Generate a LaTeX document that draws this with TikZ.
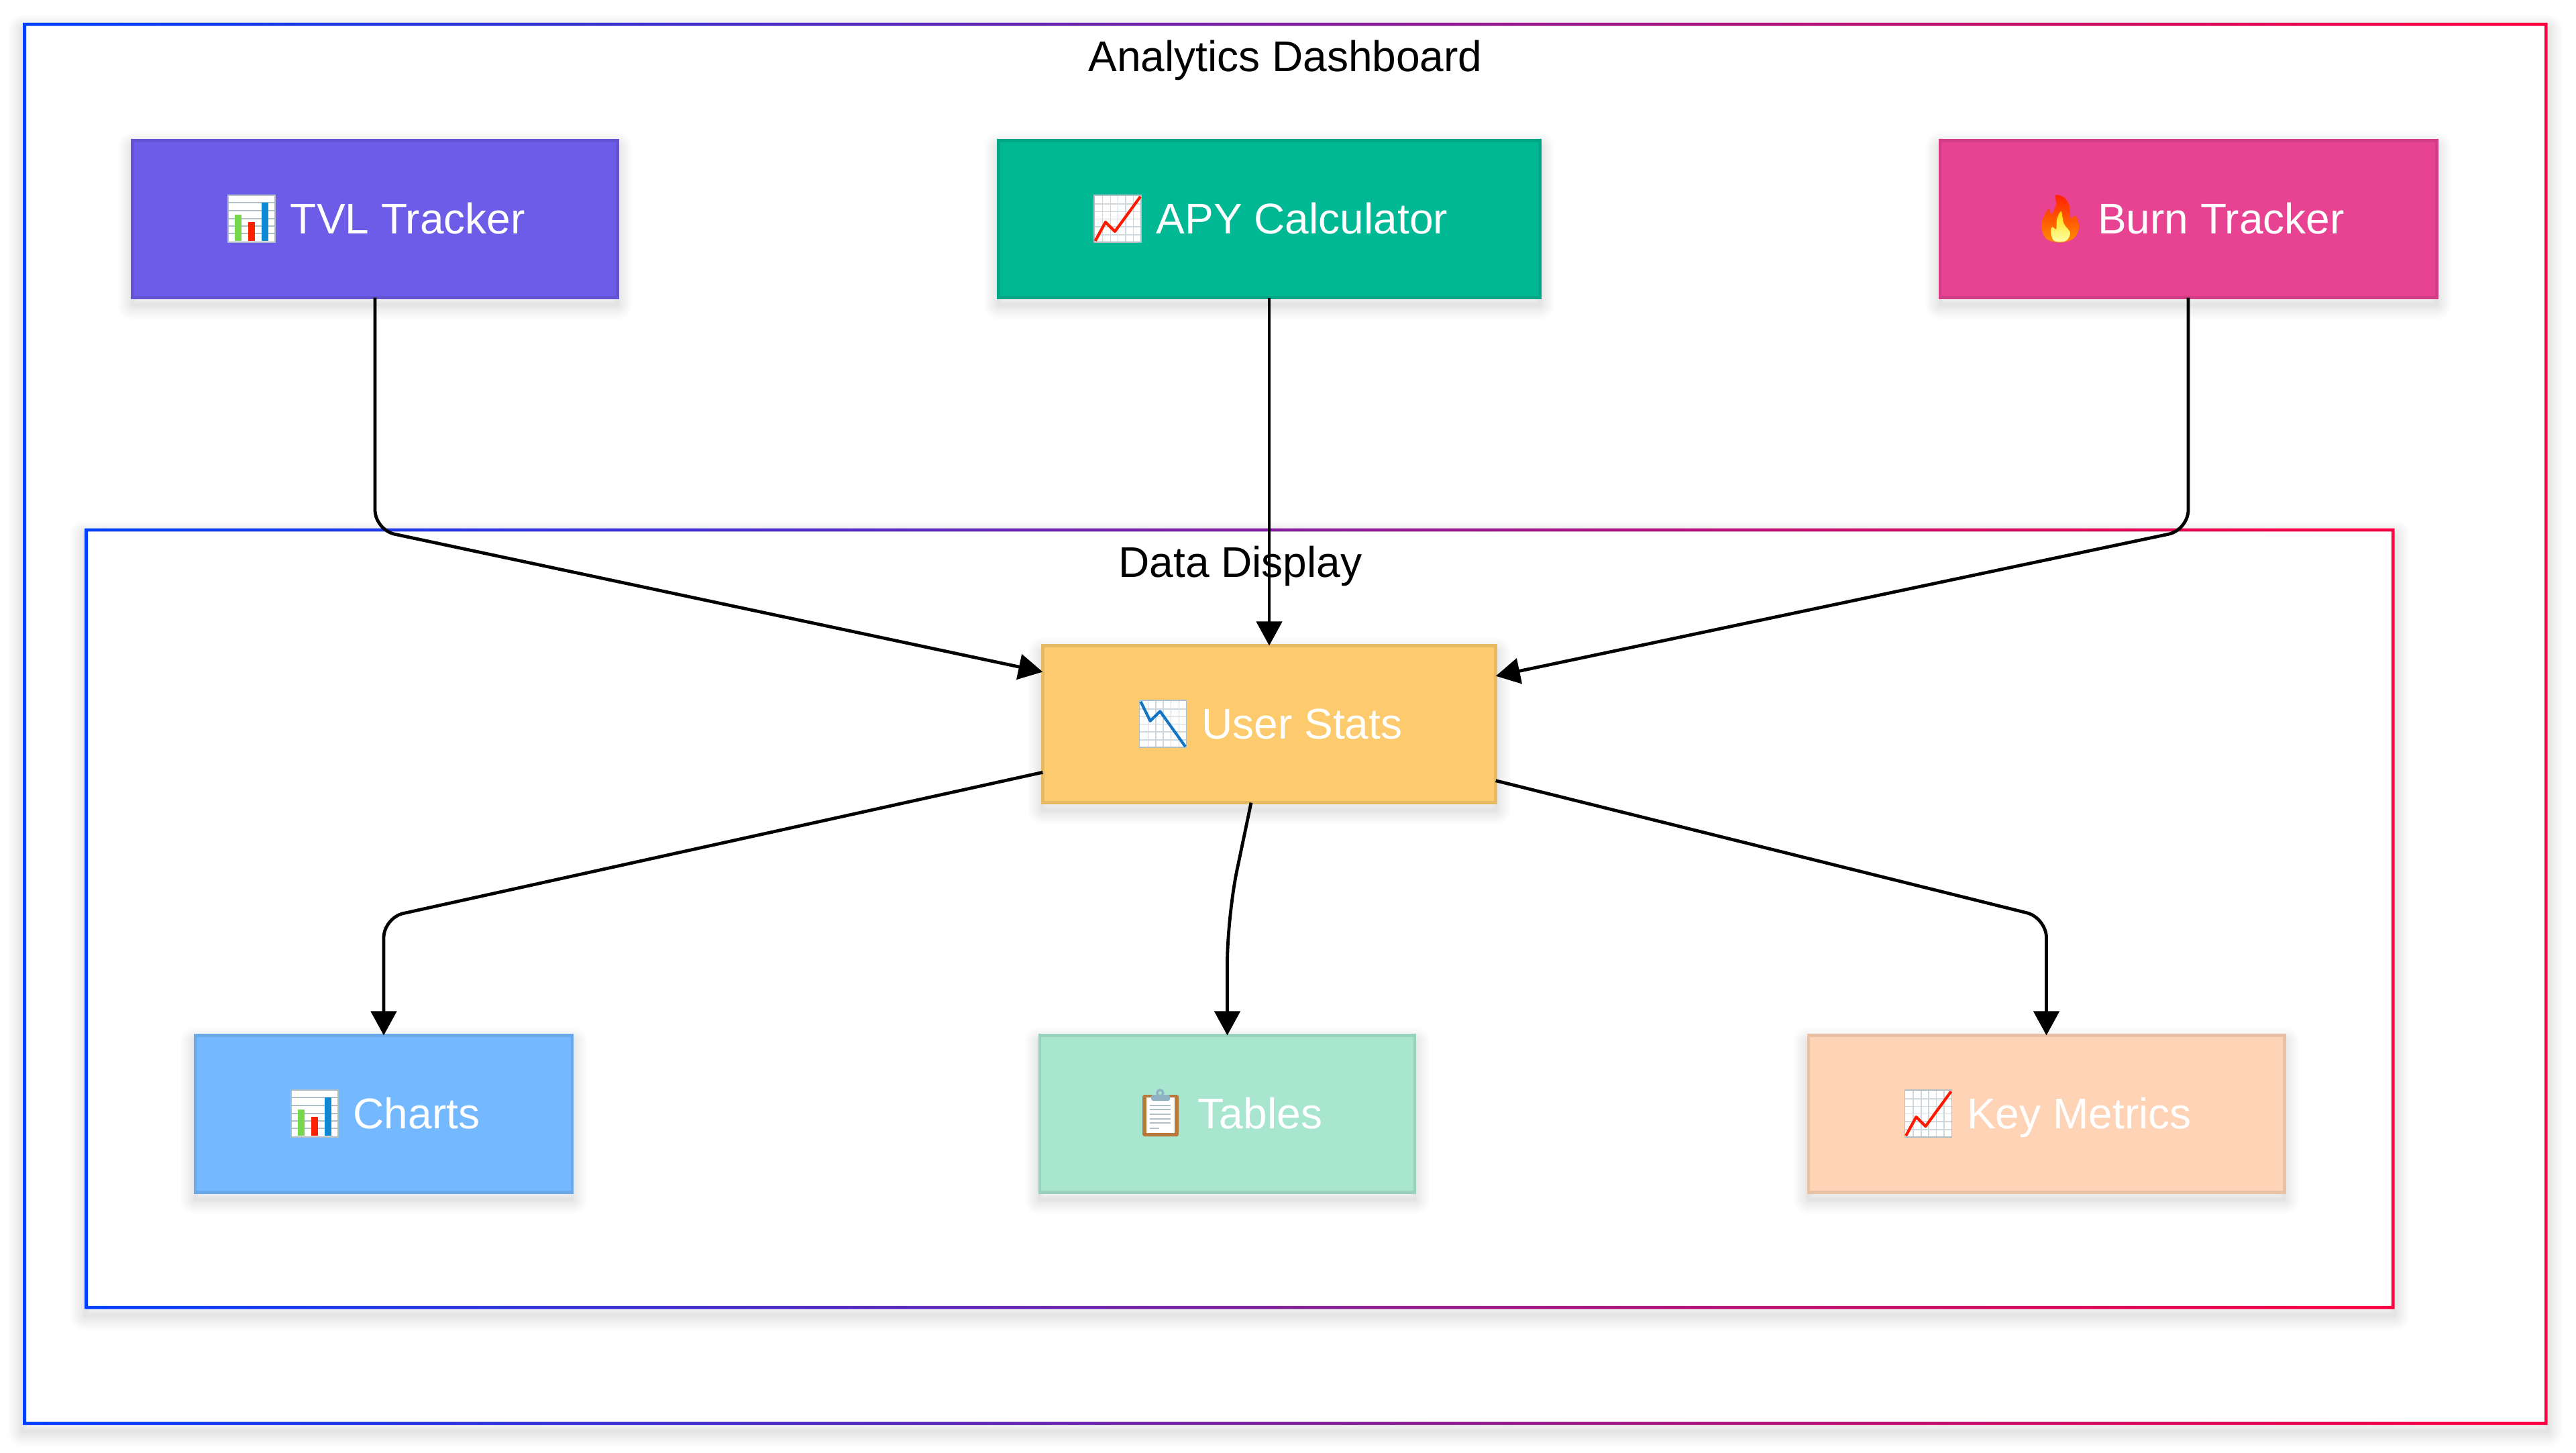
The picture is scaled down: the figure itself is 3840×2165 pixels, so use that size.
\documentclass[tikz,border=0pt]{standalone}
\usepackage{fontspec}
\setmainfont{Liberation Sans}
\newfontfamily\emojifont{Noto Emoji}
\usepackage{tikz}
\usetikzlibrary{arrows.meta}

\definecolor{frameblue}{HTML}{0040FF}
\definecolor{framered}{HTML}{FF0040}
\definecolor{cardline}{HTML}{CFD8DC}
\definecolor{cardedge}{HTML}{B0BEC5}
\definecolor{tvlblue}{HTML}{6C5CE7}
\definecolor{apygreen}{HTML}{00B894}
\definecolor{burnpink}{HTML}{E84393}
\definecolor{statsamber}{HTML}{FDCB6E}
\definecolor{chartsky}{HTML}{74B9FF}
\definecolor{tablemint}{HTML}{A8E6CF}
\definecolor{metricpeach}{HTML}{FFD3B6}
\definecolor{barbrown}{HTML}{B8793C}
\definecolor{clipblue}{HTML}{8FB3C4}

\tikzset{
  shadowlayer/.style={preaction={draw=black,draw opacity=.011,line width=#1,line join=round,
    transform canvas={yshift=-.1cm}}},
  softshadow/.style={shadowlayer/.list={.44cm,.38cm,.32cm,.27cm,.22cm,.17cm,.12cm,.08cm,.04cm}},
  textfont/.style={font=\fontsize{.64cm}{.77cm}\selectfont},
  flowbox/.style={rectangle,draw=#1!91!black,fill=#1,line width=.046cm,softshadow,text=white,textfont,
    outer sep=0pt,inner sep=0pt,minimum height=2.34cm,text height=.5cm,text depth=.07cm},
  framebox/.style={rectangle,fill=white,softshadow,outer sep=0pt,inner sep=0pt},
  framestroke/.style={even odd rule,left color=frameblue,right color=framered},
  frametitle/.style={anchor=base,text=black,textfont},
  edgeline/.style={draw=black,line width=.048cm,-{Triangle[length=.36cm,width=.38cm]}},
  thinline/.style={line width=.016cm},
}

% the emoji stands in an 80 wide slot, its coloured icon is painted over it
\newcommand{\iconslot}[3]{\makebox[.8cm][l]{\hspace{.1cm}\color{#1}\fontsize{.48cm}{.5cm}\emojifont #2}\kern-.8cm\tikz[overlay,x=.01cm,y=-.01cm,shift={(5,-57)}]{#3}\hspace{.8cm}}

\newcommand{\cardicon}{%
  \fill[white] (0,0) rectangle (70,70);
  \foreach \g in {12.7,24.4,35.4,47,58.7} {
    \draw[cardline,thinline] (\g,0) -- (\g,70);
    \draw[cardline,thinline] (0,\g) -- (70,\g);
  }
  \draw[cardedge,line width=.016cm] (0,0) rectangle (70,70);
}
\newcommand{\barsicon}{%
  \fill[white] (0,0) rectangle (70,70);
  \foreach \g in {11,23,35,46,57} \draw[cardedge,thinline] (0,\g) -- (70,\g);
  \fill[green!55!olive!70!white] (10,29) rectangle (20,68);
  \fill[red!75!orange] (30,40) rectangle (40,68);
  \fill[cyan!70!blue] (50,11) rectangle (60,68);
  \draw[cardedge,line width=.02cm] (0,0) rectangle (70,70);
}
\newcommand{\riseicon}{%
  \cardicon
  \draw[red!80!orange,line width=.042cm,line join=round] (1.7,68) -- (17,40) -- (31,54) -- (69,2);
}
\newcommand{\fallicon}{%
  \cardicon
  \draw[cyan!55!blue,line width=.042cm,line join=round] (1.7,1.7) -- (16,30.7) -- (30.7,16.3) -- (68.4,69);
}
\newcommand{\clipicon}{%
  \fill[barbrown,rounded corners=.03cm] (10,7) rectangle (64,69);
  \fill[white] (16,11) rectangle (57.5,63.7);
  \foreach \g in {22.7,29.3,36,42.7,49.3} \draw[cardedge,line width=.02cm] (21,\g) -- (52,\g);
  \draw[cardedge,line width=.02cm] (21,56.7) -- (35,56.7);
  \draw[clipblue,line width=.035cm] (36.3,4.3) circle (.045cm);
  \fill[clipblue,rounded corners=.03cm] (23,7) rectangle (51,16);
}
\newcommand{\flameicon}{%
  \begin{scope}[x=.00333cm,y=-.00333cm,shift={(-95,-63)}]
    \shade[top color=red!75!orange,bottom color=orange!90!yellow] plot[smooth cycle,tension=.55] coordinates {
      (185,63) (222,72) (246,108) (252,165) (275,155) (290,205) (268,255) (205,275) (140,255) (122,190) (152,125) (166,150) (187,105)};
    \shade[top color=yellow!70!orange,bottom color=yellow!35!white] plot[smooth cycle,tension=.55] coordinates {
      (210,135) (222,190) (250,230) (236,264) (205,272) (175,264) (163,225) (170,205) (188,215) (191,170)};
  \end{scope}
}

\begin{document}
\begin{tikzpicture}[x=.01cm,y=-.01cm]
  \useasboundingbox (0,0) rectangle (3840,2165);
  % outer frame
  \node[framebox,minimum width=37.61cm,minimum height=20.89cm] (dashboard) at (1916,1079) {};
  \shade[framestroke] (dashboard.north west) rectangle (dashboard.south east)
    ([shift={(4.6,4.6)}]dashboard.north west) rectangle ([shift={(-4.6,-4.6)}]dashboard.south east);
  \node[frametitle] (dashboardtitle) at (1916,106) {Analytics Dashboard};
  % inner frame
  \node[framebox,minimum width=34.41cm,minimum height=11.63cm] (display) at (1848,1369.5) {};
  \shade[framestroke] (display.north west) rectangle (display.south east)
    ([shift={(4.6,4.6)}]display.north west) rectangle ([shift={(-4.6,-4.6)}]display.south east);
  \node[frametitle] (displaytitle) at (1849,860) {Data Display};
  % top row
  \node[flowbox={tvlblue},minimum width=7.22cm] (tvl) at (559,326.5) {\iconslot{cardedge}{📊}{\barsicon} TVL Tracker};
  \node[flowbox={apygreen},minimum width=8.06cm] (apy) at (1892,326.5) {\iconslot{cardedge}{📈}{\riseicon} APY Calculator};
  \node[flowbox={burnpink},minimum width=7.40cm] (burn) at (3262,326.5) {\iconslot{orange}{🔥}{\flameicon} Burn Tracker};
  % middle
  \node[flowbox={statsamber},minimum width=6.75cm] (stats) at (1892,1079.5) {\iconslot{cardedge}{📉}{\fallicon} User Stats};
  % bottom row
  \node[flowbox={chartsky},minimum width=5.62cm] (charts) at (572,1660.5) {\iconslot{cardedge}{📊}{\barsicon} Charts};
  \node[flowbox={tablemint},minimum width=5.59cm] (tables) at (1829.5,1660.5) {\iconslot{barbrown}{📋}{\clipicon} Tables};
  \node[flowbox={metricpeach},minimum width=7.09cm] (metrics) at (3050.5,1660.5) {\iconslot{cardedge}{📈}{\riseicon} Key Metrics};
  % connectors
  \coordinate (tvlbend) at (559,790);
  \coordinate (burnbend) at (3262,790);
  \coordinate (chartsbend) at (572,1368);
  \coordinate (tablesbend) at (1829.5,1366);
  \coordinate (metricsbend) at (3050.5,1368);
  \draw[edgeline,rounded corners=.3cm] (tvl.south) -- (tvlbend) -- (stats.167.5);
  \draw[edgeline] (apy.south) -- (stats.north);
  \draw[edgeline,rounded corners=.3cm] (burn.south) -- (burnbend) -- (stats.12.3);
  \draw[edgeline,rounded corners=.3cm] (stats.192.3) -- (chartsbend) -- (charts.north);
  \draw[edgeline,rounded corners=.7cm] (stats.257.6) -- (tablesbend) -- (tables.north);
  \draw[edgeline,rounded corners=.3cm] (stats.-14) -- (metricsbend) -- (metrics.north);
\end{tikzpicture}
\end{document}
